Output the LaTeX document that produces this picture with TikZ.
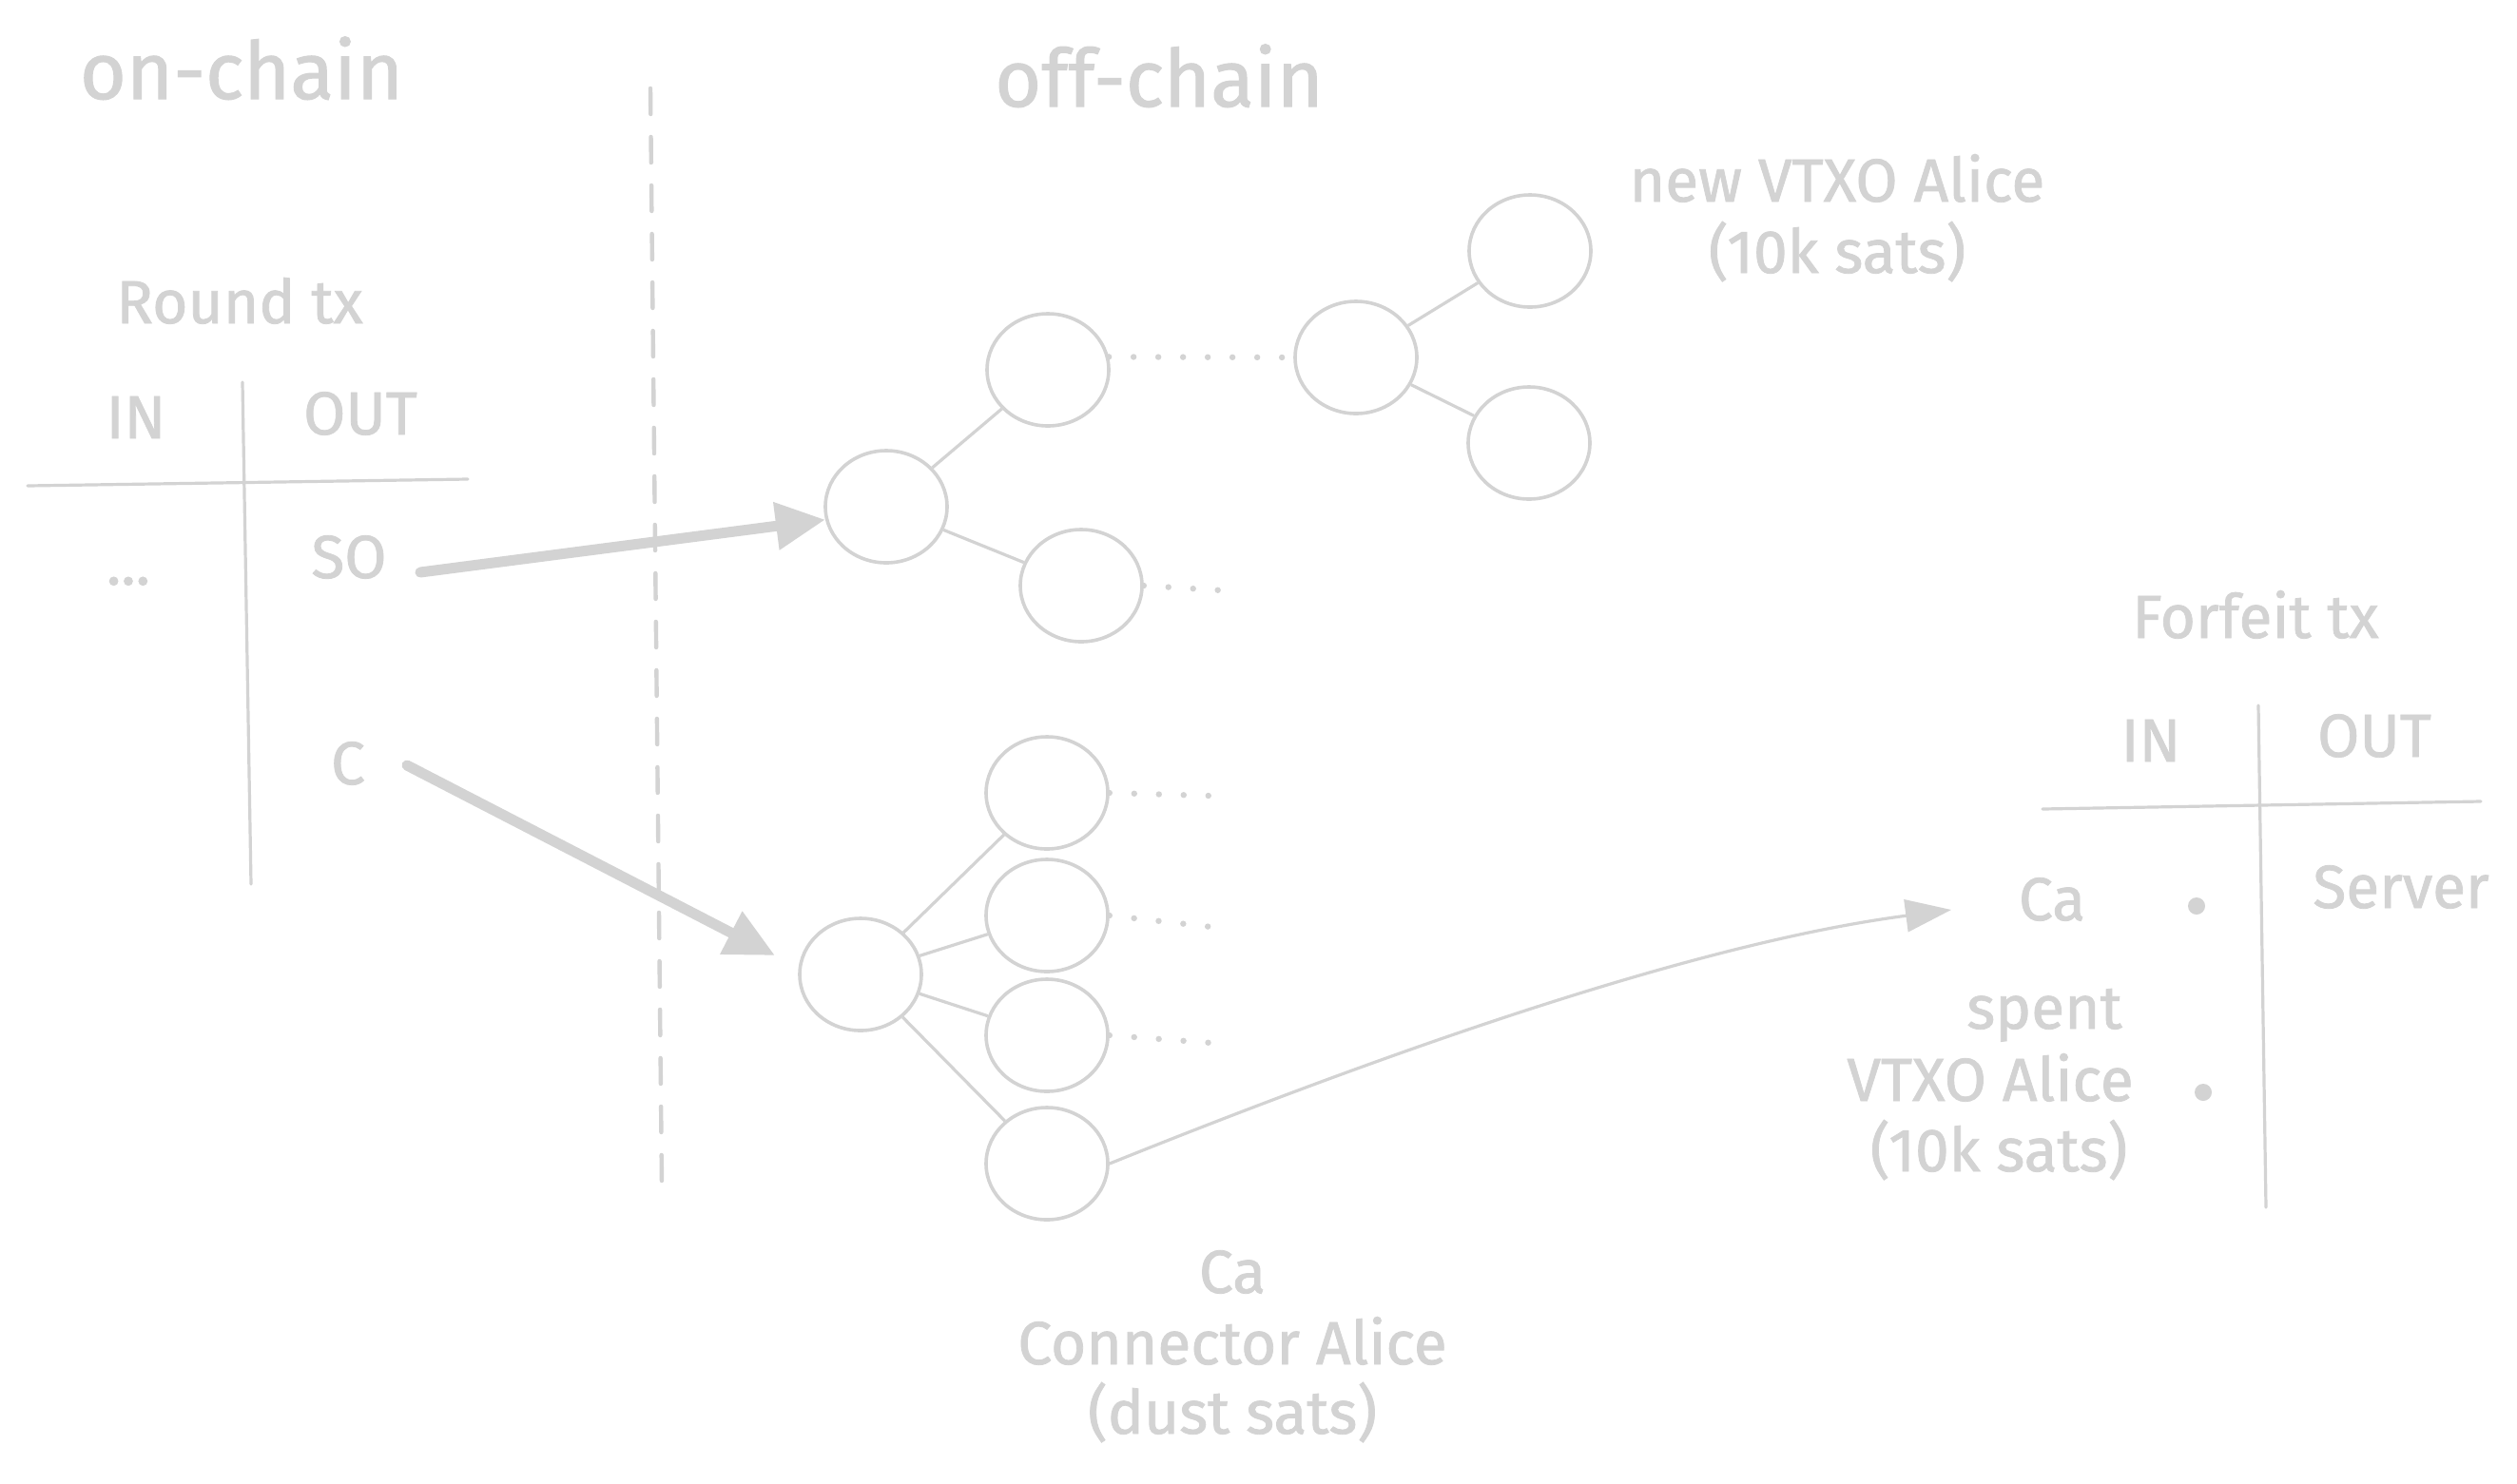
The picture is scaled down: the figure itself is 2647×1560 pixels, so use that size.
\documentclass[tikz,border=0pt]{standalone}
\usepackage{fontspec}
\setmainfont{Fira Sans}[FakeBold=1.2]
\usetikzlibrary{arrows.meta,shapes.geometric}
\definecolor{ink}{RGB}{211,211,211}
\begin{document}
\begin{tikzpicture}[x=0.5pt,y=-0.5pt,
  lbl/.style={text=ink,font=\fontsize{32}{38}\selectfont,anchor=base,inner sep=0pt},
  hd/.style={lbl,font=\fontsize{42}{50}\selectfont},
  vtx/.style={draw=ink,line width=1.8pt,ellipse,minimum width=64pt,minimum height=59pt,inner sep=0pt},
  rule/.style={draw=ink,line width=1.6pt,line cap=round},
  edge/.style={draw=ink,line width=1.6pt},
  dotline/.style={draw=ink,line width=3.2pt,line cap=round,dash pattern=on 0pt off 13pt},
  fat/.style={draw=ink,line width=5.5pt,line cap=round,-{Triangle[length=26pt,width=24pt]}},
  thinarrow/.style={draw=ink,line width=1.6pt,-{Triangle[length=24pt,width=17pt]}},
  divider/.style={draw=ink,line width=2.2pt,line cap=round,dash pattern=on 13.5pt off 12pt},
  dotmark/.style={circle,fill=ink,inner sep=0pt,minimum size=9pt}
]
\fill[white] (0,0) rectangle (2647,1560);
\useasboundingbox (0,0) rectangle (2647,1560);

% headings
\node[hd] (onchain) at (254,104) {on-chain};
\node[hd] (offchain) at (1219,112) {off-chain};

% divider
\coordinate (dTop) at (684,93);
\coordinate (dBot) at (696,1247);
\draw[divider] (dTop) -- (dBot);

% Round tx table
\node[lbl] (roundtx) at (252,340) {Round tx};
\node[lbl] (rin) at (143,461) {IN};
\node[lbl] (rout) at (379,457) {OUT};
\coordinate (rh1) at (29,511);
\coordinate (rh2) at (492,504);
\coordinate (rv1) at (255,402);
\coordinate (rv2) at (264,930);
\draw[rule] (rh1) -- (rh2);
\draw[rule] (rv1) -- (rv2);
\node[lbl] (rdots) at (135,615) {...};
\node[lbl] (so) at (367,608) {SO};
\node[lbl] (c) at (366,825) {C};

% upper tree
\node[vtx] (R1) at (932,533) {};
\node[vtx] (A) at (1102,389) {};
\node[vtx] (B) at (1137,616) {};
\node[vtx] (D) at (1426,376) {};
\node[vtx] (E) at (1609,264) {};
\node[vtx] (F) at (1608,466) {};
\draw[edge] (R1) -- (A);
\draw[edge] (R1) -- (B);
\draw[edge] (D) -- (E);
\draw[edge] (D) -- (F);
\draw[dotline] (A.12) -- (D.west);
\coordinate (bEnd) at (1285,621);
\draw[dotline] (B.east) -- (bEnd);

% lower tree
\node[vtx] (R2) at (905,1025) {};
\node[vtx] (G) at (1101,834) {};
\node[vtx] (H) at (1101,963) {};
\node[vtx] (I) at (1101,1089) {};
\node[vtx] (J) at (1101,1224) {};
\draw[edge] (R2) -- (G);
\draw[edge] (R2) -- (H);
\draw[edge] (R2) -- (I);
\draw[edge] (R2) -- (J);
\coordinate (gEnd) at (1271,837);
\coordinate (hEnd) at (1274,975);
\coordinate (iEnd) at (1274,1097);
\draw[dotline] (G.east) -- (gEnd);
\draw[dotline] (H.east) -- (hEnd);
\draw[dotline] (I.east) -- (iEnd);

% thick arrows
\coordinate (soOut) at (442,602);
\draw[fat] (soOut) -- (R1.192);
\coordinate (cOut) at (428,805);
\coordinate (cTip) at (815,1005);
\draw[fat] (cOut) -- (cTip);

% labels
\node[lbl] (nv1) at (1932,212) {new VTXO Alice};
\node[lbl] (nv2) at (1932,287) {(10k sats)};
\node[lbl] (ca1) at (1296,1360) {Ca};
\node[lbl] (ca2) at (1296,1435) {Connector Alice};
\node[lbl] (ca3) at (1296,1508) {(dust sats)};

% Forfeit tx table
\node[lbl] (forfeit) at (2372,671) {Forfeit tx};
\node[lbl] (fin) at (2262,801) {IN};
\node[lbl] (fout) at (2497,796) {OUT};
\coordinate (fh1) at (2148,851);
\coordinate (fh2) at (2609,843);
\coordinate (fv1) at (2375,742);
\coordinate (fv2) at (2383,1270);
\draw[rule] (fh1) -- (fh2);
\draw[rule] (fv1) -- (fv2);
\node[lbl] (fca) at (2158,968) {Ca};
\node[dotmark] (dot1) at (2310,953) {};
\node[lbl] (server) at (2525,955) {Server};
\node[lbl] (sp1) at (2150,1082) {spent};
\node[lbl] (sp2) at (2093,1158) {VTXO Alice};
\node[lbl] (sp3) at (2102,1232) {(10k sats)};
\node[dotmark] (dot2) at (2317,1149) {};

% connector to forfeit
\coordinate (caTip) at (2052,957);
\draw[thinarrow] (J.east) .. controls (1500,1090) and (1800,990) .. (caTip);
\end{tikzpicture}
\end{document}
